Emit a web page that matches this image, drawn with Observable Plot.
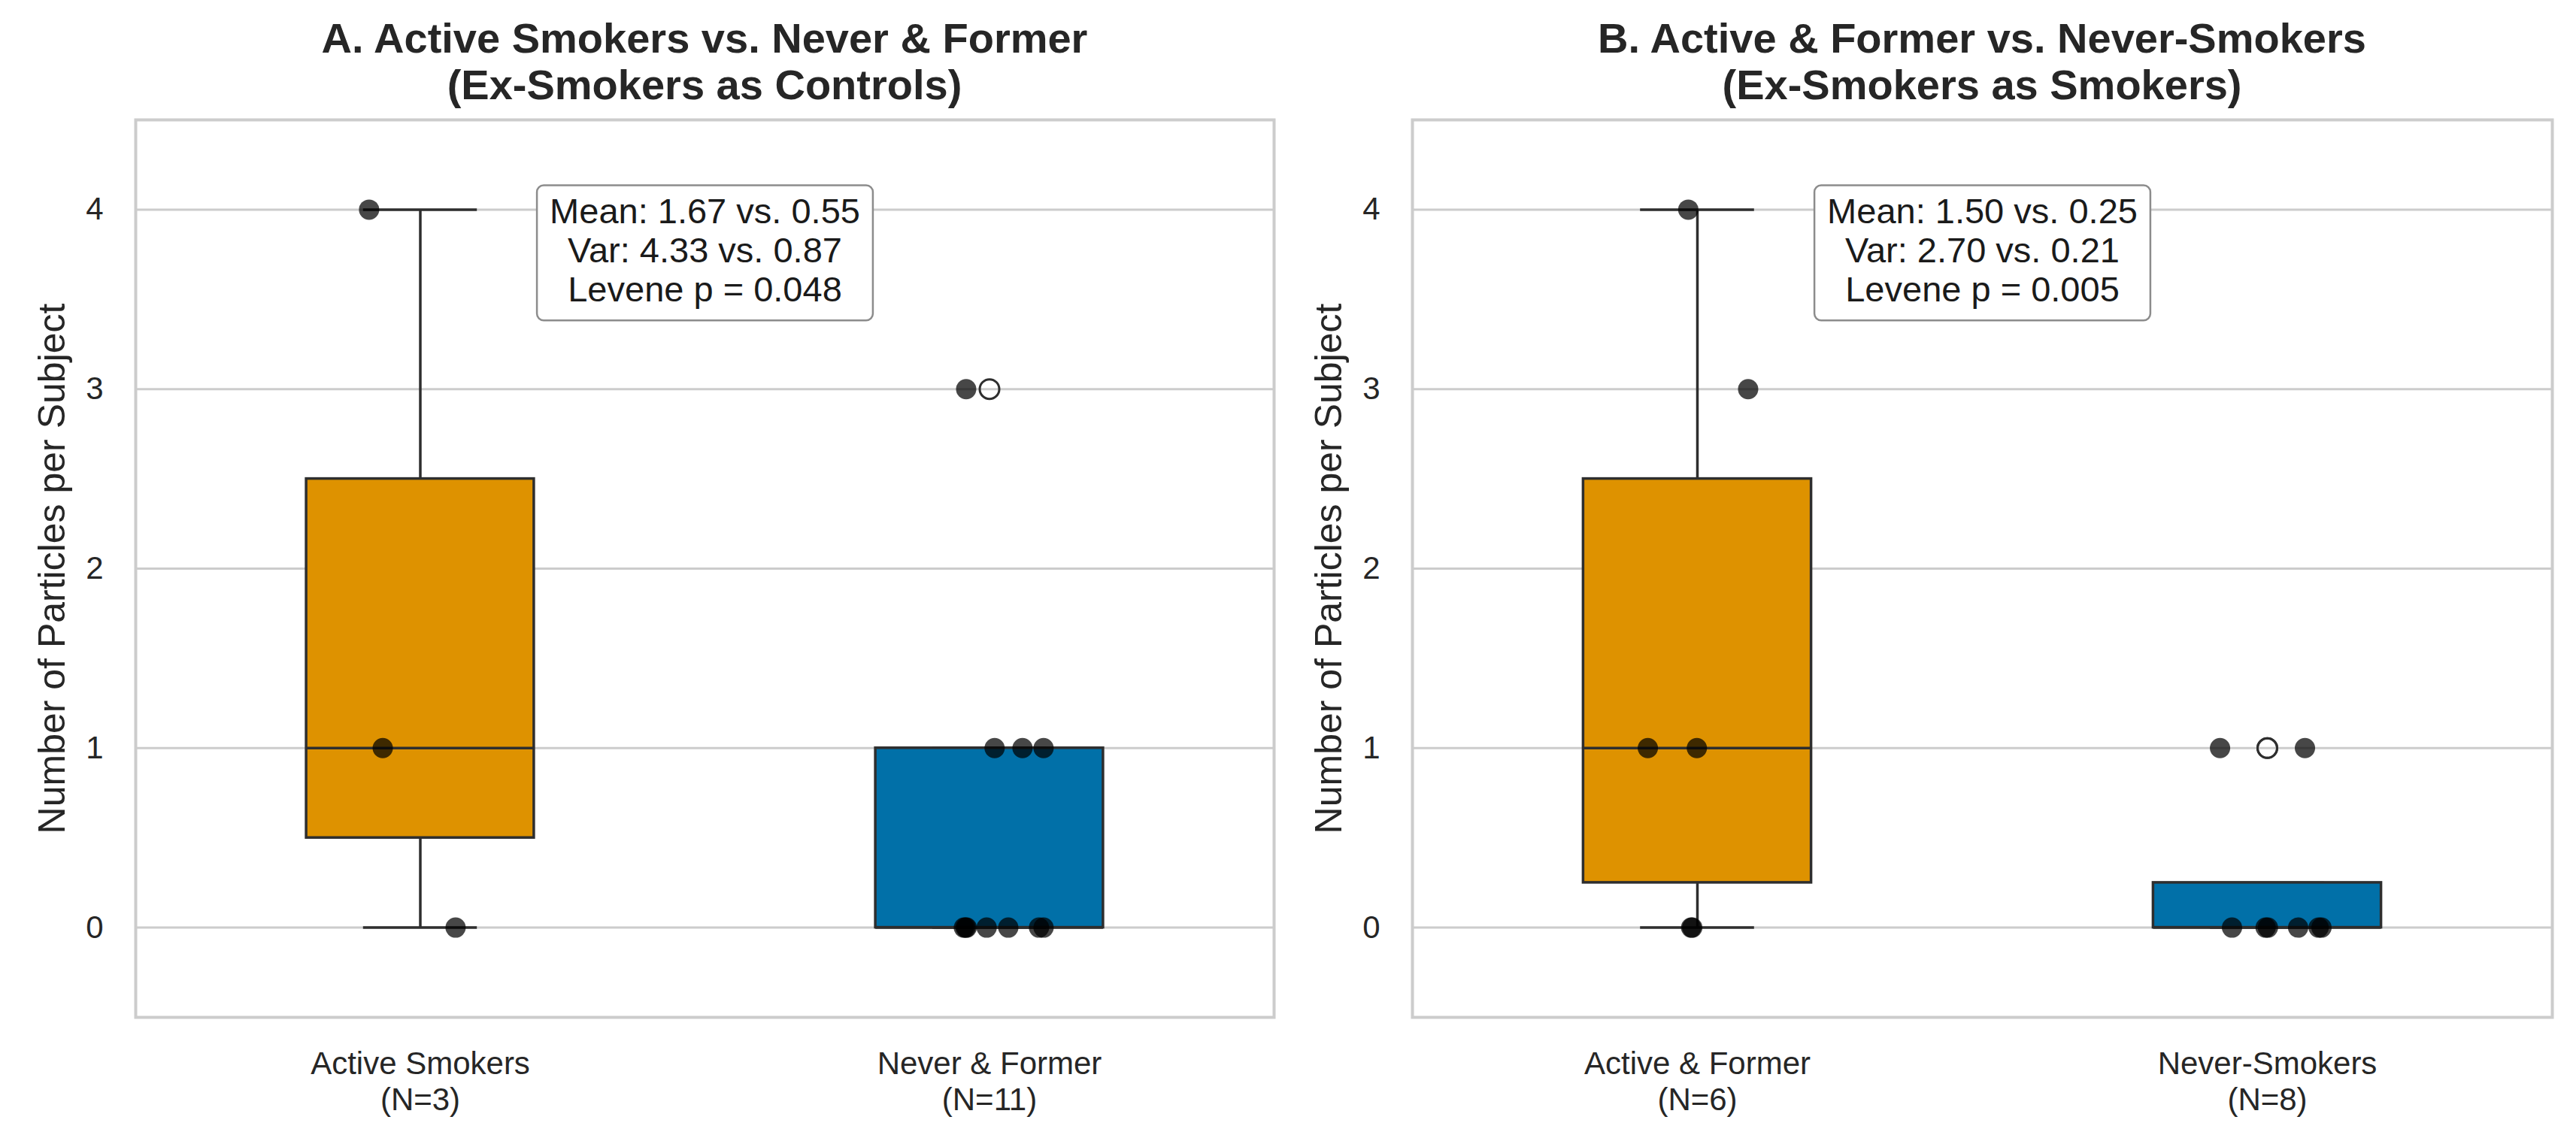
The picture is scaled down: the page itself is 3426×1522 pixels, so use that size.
<!DOCTYPE html>
<html>
<head>
<meta charset="utf-8">
<script src="https://cdn.jsdelivr.net/npm/d3@7"></script>
<script src="https://cdn.jsdelivr.net/npm/@observablehq/plot@0.6"></script>
<style>
  html, body { margin: 0; padding: 0; background: #fff; }
  #fig { display: flex; width: 3426px; height: 1522px; font-family: "Liberation Sans", Arial, sans-serif; color: #262626; }
  .panel { width: 1713px; flex: none; }
  .panel-title { box-sizing: border-box; height: 144px; padding-top: 20px; font-size: 56px; font-weight: bold; line-height: 62px; text-align: center; white-space: pre; }
</style>
</head>
<body>
<div id="fig"></div>
<script>
// ---- Data -------------------------------------------------------------
const panelTitles = [
  "A. Active Smokers vs. Never & Former\n(Ex-Smokers as Controls)",
  "B. Active & Former vs. Never-Smokers\n(Ex-Smokers as Smokers)"
];
const groupsA = ["Active Smokers", "Never & Former"];
const groupsB = ["Active & Former", "Never-Smokers"];

// Particles per subject, one entry per subject
const activeSmokers = [4, 1, 0];
const neverFormer   = [3, 1, 1, 1, 0, 0, 0, 0, 0, 0, 0];
const activeFormer  = [4, 3, 1, 1, 0, 0];
const neverSmokers  = [1, 1, 0, 0, 0, 0, 0, 0];

// Horizontal strip jitter for each subject (fraction of a category slot)
const jitterActiveSmokers = [-0.090, -0.066, 0.062];
const jitterNeverFormer   = [-0.041, 0.009, 0.058, 0.095, -0.045, -0.042, -0.040, -0.005, 0.033, 0.087, 0.095];
const jitterActiveFormer  = [-0.016, 0.089, -0.087, -0.001, -0.011, -0.009];
const jitterNeverSmokers  = [-0.083, 0.066, -0.062, -0.003, 0.001, 0.054, 0.090, 0.095];

// Levene test p-values for each comparison
const leveneP = ["0.048", "0.005"];

const yTicks = [0, 1, 2, 3, 4];
const yLabel = "Number of Particles per Subject";

// ---- Styling ----------------------------------------------------------
const boxFill = ["#DE9200", "#0170A8"];
const ink = "#2e2e2e";
const gridColor = "#cccccc";
const fontFamily = "'Liberation Sans', Arial, sans-serif";
const lw = 3.5;

// Tukey box statistics with 1.5×IQR whiskers (linear quantiles)
function boxStats(values, i) {
  const s = d3.sort(values);
  const q1 = d3.quantile(s, 0.25), med = d3.quantile(s, 0.5), q3 = d3.quantile(s, 0.75);
  const iqr = q3 - q1;
  const lo = Math.min(q1, d3.min(s.filter(v => v >= q1 - 1.5 * iqr)));
  const hi = Math.max(q3, d3.max(s.filter(v => v <= q3 + 1.5 * iqr)));
  const fliers = s.filter(v => v < lo || v > hi).map(v => ({i, v}));
  return {i, q1, med, q3, lo, hi, fliers};
}

function panel({title, groups, series, jitters, pValue, marginLeft, marginRight}) {
  const stats = series.map((vals, i) => boxStats(vals, i));
  const fliers = stats.flatMap(s => s.fliers);
  const points = series.flatMap((vals, i) => vals.map((v, k) => ({i, v, jitter: jitters[i][k]})));
  const tickLabels = groups.map((g, i) => `${g}\n(N=${series[i].length})`);
  const fmt = d3.format(".2f");
  const means = series.map(v => d3.mean(v)), vars = series.map(v => d3.variance(v));
  const note = `Mean: ${fmt(means[0])} vs. ${fmt(means[1])}\nVar: ${fmt(vars[0])} vs. ${fmt(vars[1])}\nLevene p = ${pValue}`;

  const plot = Plot.plot({
    width: 1713,
    height: 1378,
    marginTop: 15,
    marginBottom: 169,
    marginLeft,
    marginRight,
    style: {fontFamily, fontSize: "42px", color: "#262626", background: "#fff", overflow: "visible"},
    color: {type: "identity"},
    x: {type: "linear", domain: [-0.5, 1.5]},
    y: {domain: [-0.5, 4.5]},
    marks: [
      Plot.gridY(yTicks, {stroke: gridColor, strokeOpacity: 1, strokeWidth: 3}),
      // whiskers and caps
      Plot.ruleX(stats, {x: "i", y1: "q3", y2: "hi", stroke: ink, strokeWidth: lw}),
      Plot.ruleX(stats, {x: "i", y1: "lo", y2: "q1", stroke: ink, strokeWidth: lw}),
      Plot.ruleY(stats, {y: "hi", x1: d => d.i - 0.1, x2: d => d.i + 0.1, stroke: ink, strokeWidth: lw}),
      Plot.ruleY(stats, {y: "lo", x1: d => d.i - 0.1, x2: d => d.i + 0.1, stroke: ink, strokeWidth: lw}),
      // boxes and medians
      Plot.rect(stats, {x1: d => d.i - 0.2, x2: d => d.i + 0.2, y1: "q1", y2: "q3", fill: d => boxFill[d.i], stroke: ink, strokeWidth: lw}),
      Plot.ruleY(stats, {y: "med", x1: d => d.i - 0.2, x2: d => d.i + 0.2, stroke: ink, strokeWidth: lw}),
      // outliers
      Plot.dot(fliers, {x: "i", y: "v", r: 13, fill: "none", stroke: ink, strokeWidth: 3}),
      // individual subjects
      Plot.dot(points, {x: d => d.i + d.jitter, y: "v", r: 13.5, fill: "black", fillOpacity: 0.72}),
      Plot.frame({stroke: gridColor, strokeWidth: 4}),
      Plot.axisY({ticks: yTicks, tickFormat: d3.format("d"), tickSize: 0, tickPadding: 43, fontSize: 42, label: null}),
      Plot.axisX({ticks: [0, 1], tickSize: 0, tickPadding: 41, fontSize: 42, lineHeight: 1.143, tickFormat: i => tickLabels[i], label: null}),
      Plot.text([yLabel], {frameAnchor: "left", textAnchor: "middle", lineAnchor: "middle", rotate: -90, dx: -111, fontSize: 50, fill: "#262626"}),
      Plot.text([note], {frameAnchor: "top", lineAnchor: "top", dy: 101, fontSize: 47, lineHeight: 1.106, fill: "#1a1a1a"})
    ]
  });

  const wrap = document.createElement("div");
  wrap.className = "panel";
  const head = document.createElement("div");
  head.className = "panel-title";
  head.style.paddingLeft = marginLeft + "px";
  head.style.paddingRight = marginRight + "px";
  head.textContent = title;
  wrap.append(head, plot);
  return wrap;
}

const fig = document.getElementById("fig");
fig.append(
  panel({title: panelTitles[0], groups: groupsA, series: [activeSmokers, neverFormer],
         jitters: [jitterActiveSmokers, jitterNeverFormer], pValue: leveneP[0], marginLeft: 180, marginRight: 19}),
  panel({title: panelTitles[1], groups: groupsB, series: [activeFormer, neverSmokers],
         jitters: [jitterActiveFormer, jitterNeverSmokers], pValue: leveneP[1], marginLeft: 165, marginRight: 32})
);

// Rounded white box behind each statistics note
for (const t of fig.querySelectorAll("svg text")) {
  if (!t.textContent.startsWith("Mean:")) continue;
  const b = t.getBBox();
  const rect = document.createElementNS("http://www.w3.org/2000/svg", "rect");
  rect.setAttribute("x", b.x - 17);
  rect.setAttribute("y", b.y - 8);
  rect.setAttribute("width", b.width + 34);
  rect.setAttribute("height", b.height + 23);
  rect.setAttribute("rx", 9);
  rect.setAttribute("fill", "#fff");
  rect.setAttribute("stroke", "#8c8c8c");
  rect.setAttribute("stroke-width", 2.5);
  if (t.getAttribute("transform")) rect.setAttribute("transform", t.getAttribute("transform"));
  t.parentNode.insertBefore(rect, t);
}
</script>
</body>
</html>
